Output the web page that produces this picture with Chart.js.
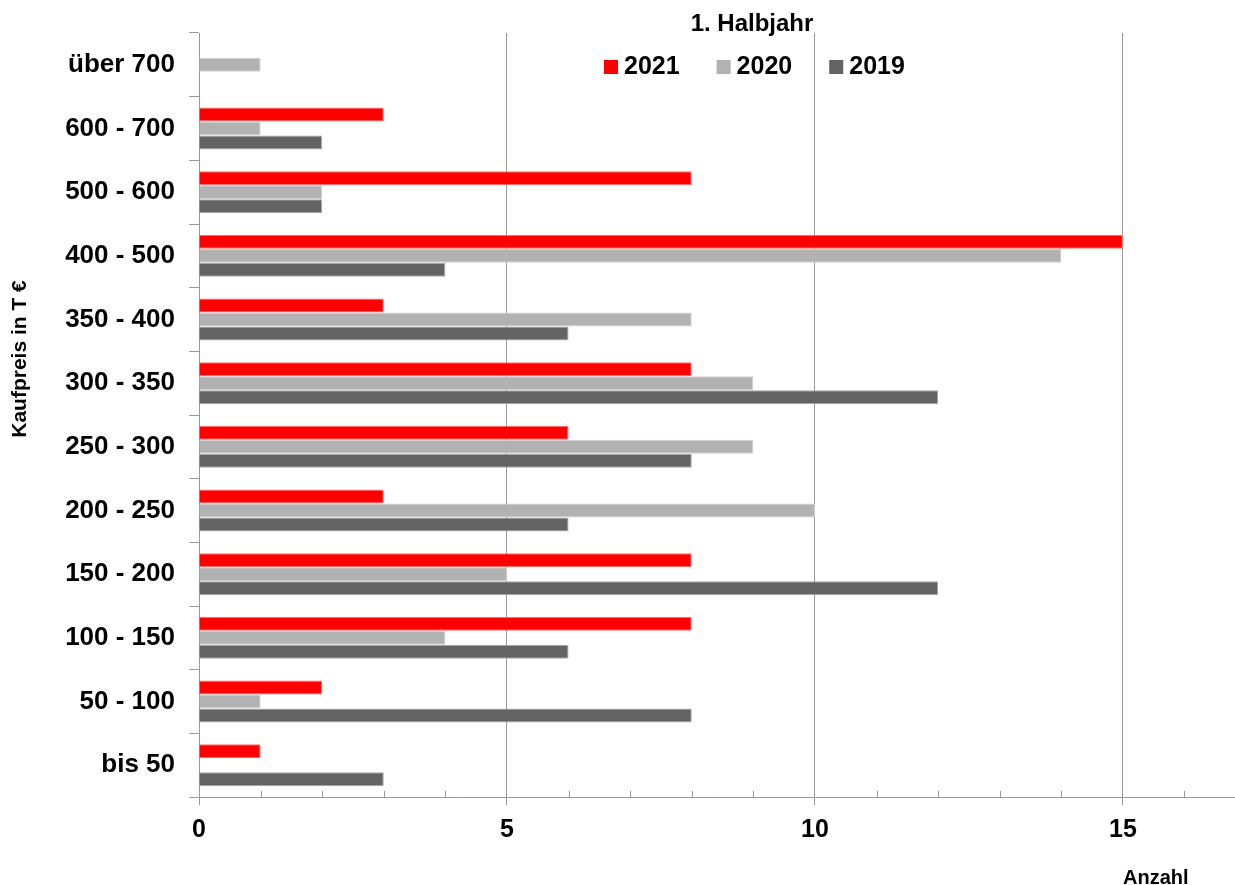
<!DOCTYPE html>
<html lang="de">
<head>
<meta charset="utf-8">
<title>Kaufpreise 1. Halbjahr</title>
<script src="https://cdn.jsdelivr.net/npm/chart.js@4.4.1/dist/chart.umd.min.js"></script>
<style>
    html, body { margin: 0; padding: 0; background: #fff; }
    #wrap { width: 1235px; height: 885px; position: relative; }
</style>
</head>
<body>
<div id="wrap"><canvas id="grafico"></canvas></div>
<script>
const kategorien = ['über 700', '600 - 700', '500 - 600', '400 - 500', '350 - 400', '300 - 350',
    '250 - 300', '200 - 250', '150 - 200', '100 - 150', '50 - 100', 'bis 50'];
const werte2021 = [0, 3, 8, 15, 3, 8, 6, 3, 8, 8, 2, 1];
const werte2020 = [1, 1, 2, 14, 8, 9, 9, 10, 5, 4, 1, 0];
const werte2019 = [0, 2, 2, 4, 6, 12, 8, 6, 12, 6, 8, 3];
const jahre = ['2021', '2020', '2019'];
const xBeschriftet = [0, 5, 10, 15];
const xMax = 16.82;

const FAMILIE = "'Liberation Sans', Arial, sans-serif";
const GRAU = '#9a9a9a';

// Titel, Legende, Achsentitel und kleine Teilstriche werden von Hand gezeichnet
const beschriftung = {
    id: 'beschriftung',
    afterDraw(chart) {
        const ctx = chart.ctx;
        const area = chart.chartArea;
        const sx = chart.scales.x;
        ctx.save();

        ctx.strokeStyle = GRAU;
        ctx.lineWidth = 1;
        for (let v = 1; v < xMax; v++) {
            if (v % 5 === 0) continue;
            const px = Math.round(sx.getPixelForValue(v)) + 0.5;
            ctx.beginPath();
            ctx.moveTo(px, area.bottom - 6);
            ctx.lineTo(px, area.bottom);
            ctx.stroke();
        }

        ctx.fillStyle = '#000';
        ctx.textBaseline = 'alphabetic';
        ctx.textAlign = 'center';
        ctx.font = 'bold 24px ' + FAMILIE;
        ctx.fillText('1. Halbjahr', 752, 31);

        ctx.font = 'bold 25px ' + FAMILIE;
        ctx.textAlign = 'left';
        let lx = 604;
        chart.data.datasets.forEach(ds => {
            ctx.fillStyle = ds.backgroundColor;
            ctx.fillRect(lx, 60, 14, 14);
            ctx.fillStyle = '#000';
            ctx.fillText(ds.label, lx + 20, 74);
            lx += 20 + ctx.measureText(ds.label).width + 37;
        });

        ctx.font = 'bold 20px ' + FAMILIE;
        ctx.fillText('Anzahl', 1123, 884);

        ctx.translate(26, 359);
        ctx.rotate(-Math.PI / 2);
        ctx.textAlign = 'center';
        ctx.font = 'bold 21px ' + FAMILIE;
        ctx.fillText('Kaufpreis in T €', 0, 0);
        ctx.restore();
    }
};

function datensatz(label, werte, farbe, rand) {
    return {
        label,
        data: werte,
        backgroundColor: farbe,
        borderColor: rand,
        borderWidth: 1,
        categoryPercentage: 0.66,
        barPercentage: 1
    };
}

const ctx = document.getElementById('grafico').getContext('2d');
new Chart(ctx, {
    type: 'bar',
    data: {
        labels: kategorien,
        datasets: [
            datensatz(jahre[0], werte2021, '#ff0000', '#ff7070'),
            datensatz(jahre[1], werte2020, '#b2b2b2', '#d0d0d0'),
            datensatz(jahre[2], werte2019, '#636363', '#a8a8a8')
        ]
    },
    plugins: [beschriftung],
    options: {
        indexAxis: 'y',
        responsive: true,
        maintainAspectRatio: false,
        animation: false,
        layout: { padding: { top: 33, left: 0, right: 0, bottom: 0 } },
        plugins: {
            legend: { display: false },
            tooltip: { enabled: false }
        },
        scales: {
            x: {
                min: 0,
                max: xMax,
                ticks: {
                    stepSize: 1,
                    autoSkip: false,
                    maxRotation: 0,
                    padding: 10,
                    color: '#000',
                    font: { family: FAMILIE, size: 25, weight: 'bold' },
                    callback: v => xBeschriftet.includes(v) ? String(v) : ''
                },
                grid: {
                    color: c => c.tick && xBeschriftet.includes(c.tick.value) ? GRAU : 'transparent',
                    tickColor: c => c.tick && xBeschriftet.includes(c.tick.value) ? GRAU : 'transparent',
                    tickLength: 8
                },
                border: { color: GRAU },
                afterFit: s => {
                    s.height = 88;
                    s.paddingLeft = 0;
                    s.paddingRight = 0;
                }
            },
            y: {
                ticks: {
                    autoSkip: false,
                    padding: 14,
                    color: '#000',
                    font: { family: FAMILIE, size: 26, weight: 'bold' }
                },
                grid: {
                    drawOnChartArea: false,
                    offset: true,
                    tickLength: 10,
                    color: GRAU
                },
                border: { color: GRAU },
                afterFit: s => { s.width = 199; }
            }
        }
    }
});
</script>
</body>
</html>
